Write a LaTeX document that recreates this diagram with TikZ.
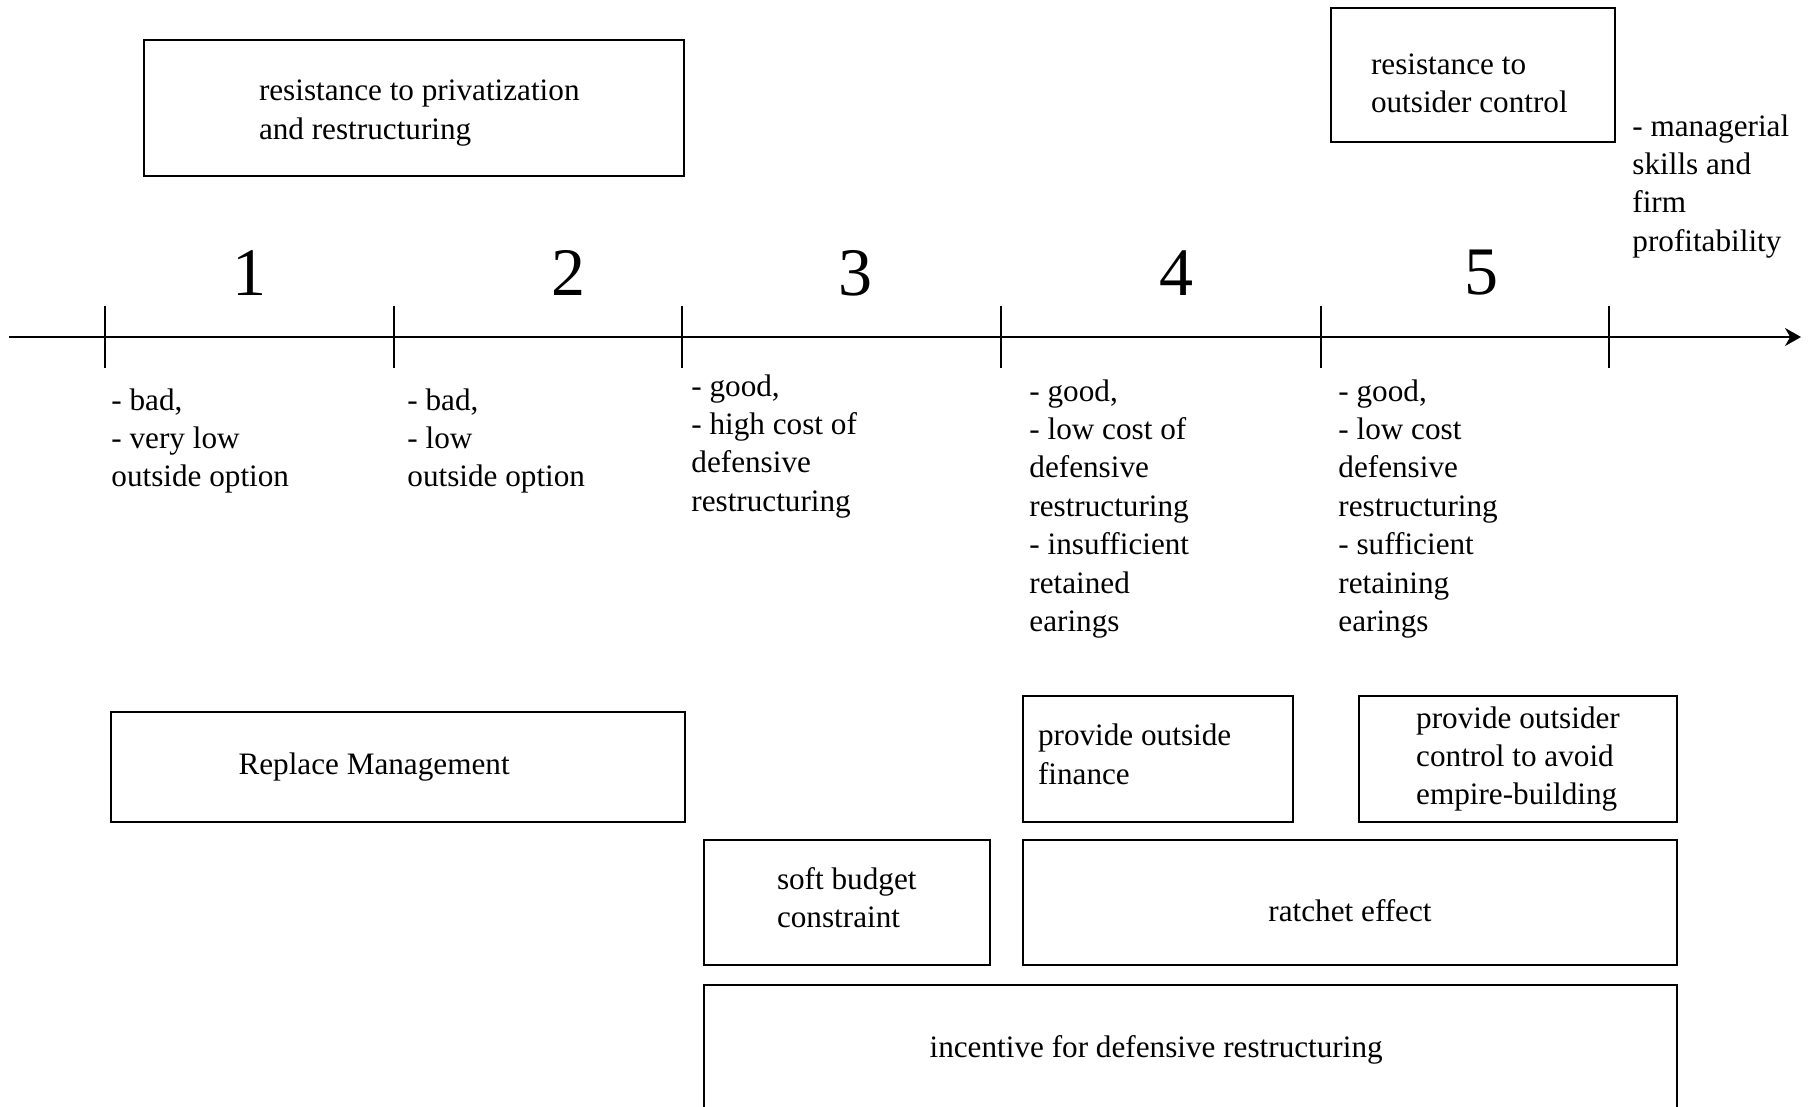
\documentclass[tikz,border=0pt]{standalone}
\usepackage{fontspec}
\setmainfont{Liberation Serif}
\usetikzlibrary{positioning,arrows.meta}
\tikzset{axes/.style={-{Stealth[length=8pt,width=9pt]},line width=0.9pt}}
\tikzset{tickmark/.style={line width=0.9pt}}
\tikzset{panel/.style={draw,line width=0.9pt,align=flush left,inner sep=0pt,font=\fontsize{15.6}{19.2}\selectfont}}
\tikzset{note/.style={anchor=north west,align=left,inner sep=0pt,font=\fontsize{15.6}{19.2}\selectfont}}
\tikzset{stagenum/.style={inner sep=0pt,font=\fontsize{34}{40}\selectfont}}

\begin{document}
\begin{tikzpicture}[x=0.5pt,y=-0.5pt]
  \useasboundingbox (0,0) rectangle (1815,1107);
  % time axis
  \coordinate (axisstart) at (9,337);
  \coordinate (axisend) at (1801,337);
  \draw[axes] (axisstart) -- (axisend);
        \foreach \x in {105,394,682,1001,1321,1609}
          \draw[tickmark] (\x,306) -- (\x,368);

  % stages
  \node[stagenum] (s1) at (249,273) {1};
  \node[stagenum] (s2) at (568,273) {2};
  \node[stagenum] (s3) at (855,273) {3};
  \node[stagenum] (s4) at (1176,273) {4};
  \node[stagenum] (s5) at (1481,273) {5};

  % boxes above the axis
  \node[panel,minimum width=270pt,minimum height=68pt,text width=155pt,text height=15.2pt] (privbox) at (414,108)
    {\mbox{resistance to privatization}\\and restructuring};
  \node[panel,minimum width=142pt,minimum height=67pt,text width=102pt,text height=18.7pt] (outsiderbox) at (1473,75)
    {resistance to\\outsider control};
  \node[note] (skills) at (1632,114) {- managerial\\skills and\\firm\\profitability};

  % conditions below the axis
  \node[note] (cond1) at (111,388) {- bad,\\- very low\\outside option};
  \node[note] (cond2) at (407,388) {- bad,\\- low\\outside option};
  \node[note] (cond3) at (691,374) {- good,\\- high cost of\\defensive\\restructuring};
  \node[note] (cond4) at (1029,379) {- good,\\- low cost of\\defensive\\restructuring\\- insufficient\\retained\\earings};
  \node[note] (cond5) at (1338,379) {- good,\\- low cost\\defensive\\restructuring\\- sufficient\\retaining\\earings};

  % remedies
  \node[panel,minimum height=55pt,text width=159.5pt,inner xsep=63.75pt] (replacebox) at (398,767)
    {Replace Management};
  \node[panel,minimum width=135pt,minimum height=63pt,text width=120pt,inner xsep=7.5pt,text height=6pt] (financebox) at (1158,759)
    {provide outside\\finance};
  \node[panel,minimum width=159pt,minimum height=63pt,align=left] (empirebox) at (1518,759)
    {provide outsider\\control to avoid\\empire-building};
  \node[panel,minimum width=143pt,minimum height=62.5pt,text width=70pt,text height=6pt] (softbox) at (847,902.5)
    {soft budget\\constraint};
  \node[panel,minimum width=327pt,minimum height=62.5pt,align=center,text height=18.7pt] (ratchetbox) at (1350,902.5)
    {ratchet effect};
  \node[panel,minimum height=65pt,text width=260.9pt,inner xsep=112.8pt] (incentivebox) at (1190.5,1050)
    {incentive for defensive restructuring};
\end{tikzpicture}
\end{document}
